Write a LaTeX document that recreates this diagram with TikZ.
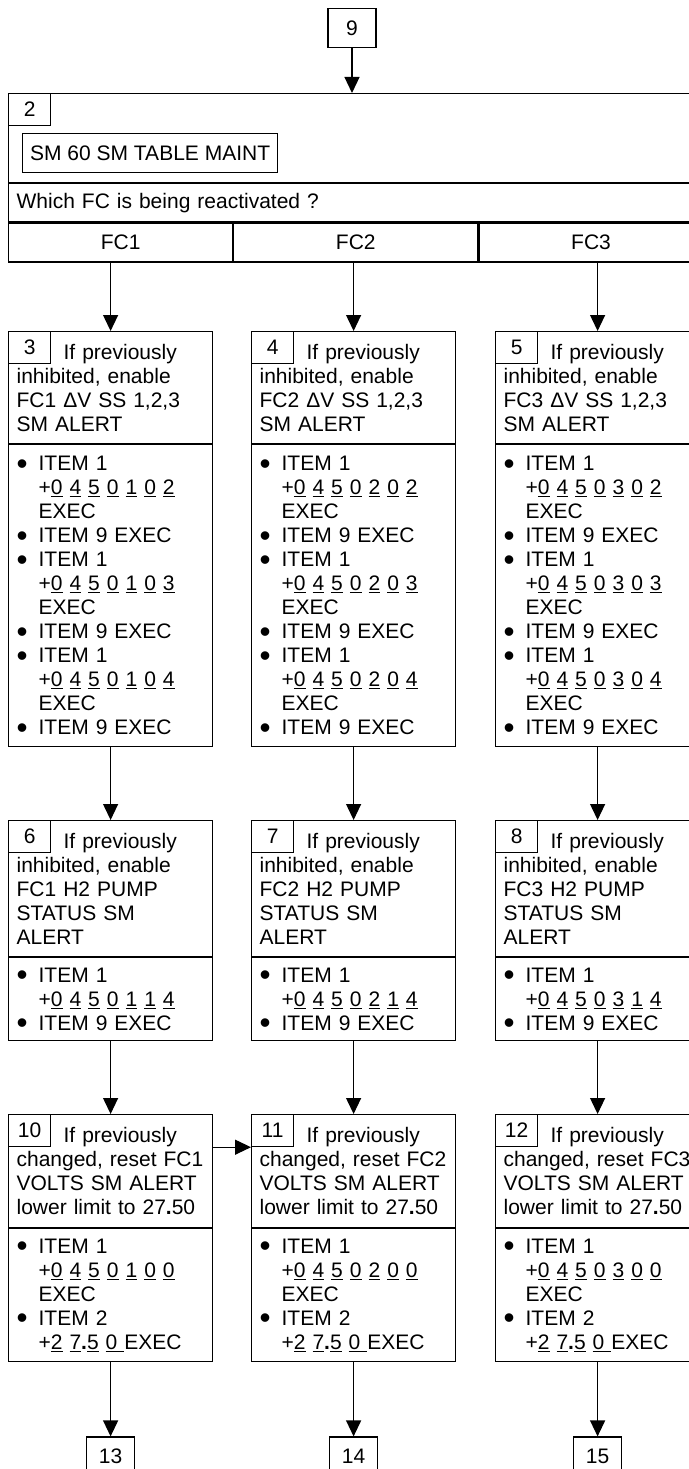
\documentclass[tikz,border=0pt]{standalone}
\usepackage{fontspec}
\setmainfont{Liberation Sans}
\usetikzlibrary{positioning,arrows.meta}

\newcommand{\ud}[1]{\underline{#1}}
\newcommand{\dotitem}{\makebox[22pt][l]{\smash{\raisebox{-3.2pt}{\scalebox{1.5}{•}}}}}
\newcommand{\keyind}{\hspace*{22pt}}
\newcommand{\itemkeys}[7]{+\ud{#1} \ud{#2} \ud{#3} \ud{#4} \ud{#5} \ud{#6} \ud{#7}}

\begin{document}
\begin{tikzpicture}[
  x=1pt, y=-1pt,
  font=\fontsize{21}{24}\selectfont,
  line width=1.2pt,
  part/.style={draw, anchor=north west, text width=188pt, inner xsep=8pt,
               inner ysep=0pt, align=left},
  numbox/.style={draw, anchor=north west, minimum width=42pt,
                 minimum height=32pt, inner sep=0pt},
  cell/.style={draw, anchor=north west, minimum height=39pt, inner sep=0pt},
  offpage/.style={draw, minimum width=48pt, minimum height=39pt, inner sep=0pt},
  flowarrow/.style={-{Triangle[length=16pt, width=15pt]}}
]
  \useasboundingbox (0,0) rectangle (688,1469);

  % Entry and step 2
  \node[offpage, anchor=north] (p9) at (352,8) {9};
  \node[draw, anchor=north west, minimum width=692pt, minimum height=89pt,
        inner sep=0pt] (head) at (8,93) {};
  \node[numbox] (n2) at (head.north west) {2};
  \node[draw, anchor=north west, minimum width=255pt, minimum height=39pt,
        inner sep=0pt] (sm60) at (22,133) {SM 60 SM TABLE MAINT};
  \node[draw, anchor=north west, minimum height=38pt, text width=676pt,
        inner xsep=8pt, inner ysep=0pt, align=left] (ask) at (head.south west)
       {Which FC is being reactivated ?};
  \node[cell, minimum width=224pt] (fc1) at (ask.south west) {FC1};
  \node[cell, minimum width=244pt] (fc2) at (fc1.north east) {FC2};
  \node[cell, minimum width=224pt] (fc3) at (fc2.north east) {FC3};

  % Steps 3, 4, 5
  \node[part, minimum height=112pt] (st3) at (8,331)
       {\hspace*{47pt}If previously\\inhibited, enable\\FC1 ΔV SS 1,2,3\\SM ALERT};
  \node[numbox] (n3) at (st3.north west) {3};
  \node[part, minimum height=302pt] (key3) at (st3.south west)
       {\dotitem ITEM 1\\ \keyind\itemkeys0450102\\ \keyind EXEC\\ \dotitem ITEM 9 EXEC\\
        \dotitem ITEM 1\\ \keyind\itemkeys0450103\\ \keyind EXEC\\ \dotitem ITEM 9 EXEC\\
        \dotitem ITEM 1\\ \keyind\itemkeys0450104\\ \keyind EXEC\\ \dotitem ITEM 9 EXEC};

  \node[part, minimum height=112pt] (st4) at (251,331)
       {\hspace*{47pt}If previously\\inhibited, enable\\FC2 ΔV SS 1,2,3\\SM ALERT};
  \node[numbox] (n4) at (st4.north west) {4};
  \node[part, minimum height=302pt] (key4) at (st4.south west)
       {\dotitem ITEM 1\\ \keyind\itemkeys0450202\\ \keyind EXEC\\ \dotitem ITEM 9 EXEC\\
        \dotitem ITEM 1\\ \keyind\itemkeys0450203\\ \keyind EXEC\\ \dotitem ITEM 9 EXEC\\
        \dotitem ITEM 1\\ \keyind\itemkeys0450204\\ \keyind EXEC\\ \dotitem ITEM 9 EXEC};

  \node[part, minimum height=112pt] (st5) at (495,331)
       {\hspace*{47pt}If previously\\inhibited, enable\\FC3 ΔV SS 1,2,3\\SM ALERT};
  \node[numbox] (n5) at (st5.north west) {5};
  \node[part, minimum height=302pt] (key5) at (st5.south west)
       {\dotitem ITEM 1\\ \keyind\itemkeys0450302\\ \keyind EXEC\\ \dotitem ITEM 9 EXEC\\
        \dotitem ITEM 1\\ \keyind\itemkeys0450303\\ \keyind EXEC\\ \dotitem ITEM 9 EXEC\\
        \dotitem ITEM 1\\ \keyind\itemkeys0450304\\ \keyind EXEC\\ \dotitem ITEM 9 EXEC};

  % Steps 6, 7, 8
  \node[part, minimum height=136pt] (st6) at (8,820)
       {\hspace*{47pt}If previously\\inhibited, enable\\FC1 H2 PUMP\\STATUS SM\\ALERT};
  \node[numbox] (n6) at (st6.north west) {6};
  \node[part, minimum height=83pt] (key6) at (st6.south west)
       {\dotitem ITEM 1\\ \keyind\itemkeys0450114\\ \dotitem ITEM 9 EXEC};

  \node[part, minimum height=136pt] (st7) at (251,820)
       {\hspace*{47pt}If previously\\inhibited, enable\\FC2 H2 PUMP\\STATUS SM\\ALERT};
  \node[numbox] (n7) at (st7.north west) {7};
  \node[part, minimum height=83pt] (key7) at (st7.south west)
       {\dotitem ITEM 1\\ \keyind\itemkeys0450214\\ \dotitem ITEM 9 EXEC};

  \node[part, minimum height=136pt] (st8) at (495,820)
       {\hspace*{47pt}If previously\\inhibited, enable\\FC3 H2 PUMP\\STATUS SM\\ALERT};
  \node[numbox] (n8) at (st8.north west) {8};
  \node[part, minimum height=83pt] (key8) at (st8.south west)
       {\dotitem ITEM 1\\ \keyind\itemkeys0450314\\ \dotitem ITEM 9 EXEC};

  % Steps 10, 11, 12
  \node[part, minimum height=113pt] (st10) at (8,1114)
       {\hspace*{47pt}If previously\\changed, reset FC1\\VOLTS SM ALERT\\lower limit to 27{\bfseries .}50};
  \node[numbox] (n10) at (st10.north west) {10};
  \node[part, minimum height=133pt] (key10) at (st10.south west)
       {\dotitem ITEM 1\\ \keyind\itemkeys0450100\\ \keyind EXEC\\ \dotitem ITEM 2\\
        \keyind+\ud{2} \ud{7}{\bfseries .}\ud{5} \ud{0\ }EXEC};

  \node[part, minimum height=113pt] (st11) at (251,1114)
       {\hspace*{47pt}If previously\\changed, reset FC2\\VOLTS SM ALERT\\lower limit to 27{\bfseries .}50};
  \node[numbox] (n11) at (st11.north west) {11};
  \node[part, minimum height=133pt] (key11) at (st11.south west)
       {\dotitem ITEM 1\\ \keyind\itemkeys0450200\\ \keyind EXEC\\ \dotitem ITEM 2\\
        \keyind+\ud{2} \ud{7}{\bfseries .}\ud{5} \ud{0\ }EXEC};

  \node[part, minimum height=113pt] (st12) at (495,1114)
       {\hspace*{47pt}If previously\\changed, reset FC3\\VOLTS SM ALERT\\lower limit to 27{\bfseries .}50};
  \node[numbox] (n12) at (st12.north west) {12};
  \node[part, minimum height=133pt] (key12) at (st12.south west)
       {\dotitem ITEM 1\\ \keyind\itemkeys0450300\\ \keyind EXEC\\ \dotitem ITEM 2\\
        \keyind+\ud{2} \ud{7}{\bfseries .}\ud{5} \ud{0\ }EXEC};

  % Exits
  \node[offpage, below=74pt of key10] (p13) {13};
  \node[offpage, below=74pt of key11] (p14) {14};
  \node[offpage, below=74pt of key12] (p15) {15};

  \draw[flowarrow] (p9) -- (p9 |- head.north);
  \draw[flowarrow] (fc1.south -| st3.north) -- (st3);
  \draw[flowarrow] (fc2.south -| st4.north) -- (st4);
  \draw[flowarrow] (fc3.south -| st5.north) -- (st5);
  \draw[flowarrow] (key3) -- (st6);
  \draw[flowarrow] (key4) -- (st7);
  \draw[flowarrow] (key5) -- (st8);
  \draw[flowarrow] (key6) -- (st10);
  \draw[flowarrow] (key7) -- (st11);
  \draw[flowarrow] (key8) -- (st12);
  \draw[flowarrow] (n10.south -| st10.east) -- (n11.south -| st11.west);
  \draw[flowarrow] (key10) -- (p13);
  \draw[flowarrow] (key11) -- (p14);
  \draw[flowarrow] (key12) -- (p15);
\end{tikzpicture}
\end{document}
